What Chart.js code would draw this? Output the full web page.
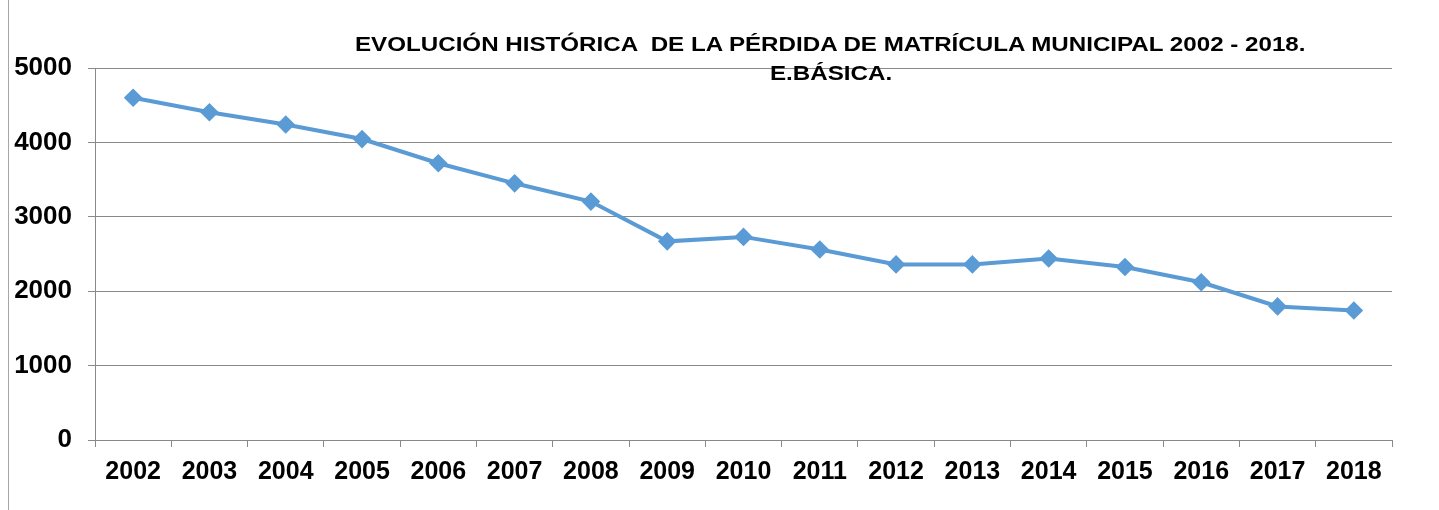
<!DOCTYPE html>
<html>
<head>
<meta charset="utf-8">
<script src="https://cdn.jsdelivr.net/npm/chart.js@4/dist/chart.umd.min.js"></script>
<style>
  html, body { margin: 0; padding: 0; background: #fff; }
  #wrap { position: relative; width: 1439px; height: 510px; }
  #edge { position: absolute; left: 8px; top: 0; width: 1px; height: 510px; background: #a6a6a6; }
  .title { position: absolute; font: bold 21px "Liberation Sans", Arial, sans-serif; color: #000;
           white-space: pre; transform: scaleX(1.15); transform-origin: left top; }
</style>
</head>
<body>
<div id="wrap">
  <canvas id="lineChart" width="1439" height="510"></canvas>
  <div id="edge"></div>
  <div class="title" style="left:355px; top:32px;">EVOLUCIÓN HISTÓRICA  DE LA PÉRDIDA DE MATRÍCULA MUNICIPAL 2002 - 2018.</div>
  <div class="title" style="left:770px; top:61px;">E.BÁSICA.</div>
</div>
<script>
const years = ['2002', '2003', '2004', '2005', '2006', '2007', '2008', '2009', '2010',
    '2011', '2012', '2013', '2014', '2015', '2016', '2017', '2018'];
const matricula = [4600, 4405, 4240, 4045, 3720, 3450, 3205, 2670, 2730,
    2560, 2360, 2360, 2440, 2325, 2120, 1795, 1740];
const yTicks = [0, 1000, 2000, 3000, 4000, 5000];

document.addEventListener('DOMContentLoaded', function () {
    const ctx = document.getElementById('lineChart').getContext('2d');
    const fontFamily = '"Liberation Sans", Arial, sans-serif';

    new Chart(ctx, {
        type: 'line',
        data: {
            labels: years,
            datasets: [{
                label: 'Matrícula',
                data: matricula,
                borderColor: '#5B9BD5',
                backgroundColor: '#5B9BD5',
                borderWidth: 4,
                pointStyle: 'rectRot',
                pointRadius: 6.5,
                pointHoverRadius: 6.5,
                tension: 0
            }]
        },
        options: {
            responsive: false,
            animation: false,
            layout: { padding: { top: 68, right: 47, left: 0, bottom: 0 } },
            plugins: {
                legend: { display: false },
                title: { display: false },
                tooltip: { enabled: false }
            },
            scales: {
                x: {
                    offset: true,
                    grid: {
                        offset: true,
                        drawOnChartArea: false,
                        drawTicks: true,
                        tickLength: 7,
                        color: '#898989'
                    },
                    border: { color: '#898989', width: 1 },
                    ticks: {
                        color: '#000',
                        font: { family: fontFamily, size: 25, weight: 'bold' },
                        padding: 10,
                        maxRotation: 0
                    },
                    afterFit: function (scale) { scale.height = 70; }
                },
                y: {
                    min: 0,
                    max: 5000,
                    afterBuildTicks: function (scale) {
                        scale.ticks = yTicks.map(v => ({ value: v }));
                    },
                    grid: {
                        color: '#898989',
                        drawTicks: true,
                        tickLength: 7
                    },
                    border: { color: '#898989', width: 1 },
                    ticks: {
                        color: '#000',
                        font: { family: fontFamily, size: 26, weight: 'bold' },
                        padding: 16,
                        callback: function (value) { return String(value); }
                    },
                    afterFit: function (scale) { scale.width = 95; }
                }
            }
        }
    });
});
</script>
</body>
</html>
